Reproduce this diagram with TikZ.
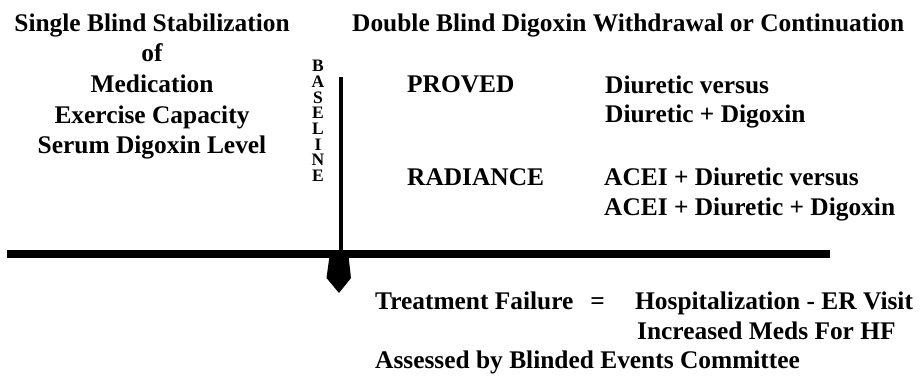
\documentclass[tikz,border=0pt]{standalone}
\usepackage{fontspec}
\setmainfont{Liberation Serif}

\begin{document}
\begin{tikzpicture}[x=1pt,y=-1pt,
                    main text/.style={inner sep=0pt,font=\fontsize{25.4}{30.5}\selectfont\bfseries},
                    letter text/.style={inner sep=0pt,align=center,font=\fontsize{17.5}{15.7}\selectfont\bfseries}]
 \useasboundingbox (0,0) rectangle (920,375);

 % single blind column
  \node[main text,anchor=base] (single) at (152,31) {Single Blind Stabilization};
  \node[main text,anchor=base] (of) at (152,61) {of};
  \node[main text,anchor=base] (med) at (152,92) {Medication};
  \node[main text,anchor=base] (exer) at (152,123) {Exercise Capacity};
  \node[main text,anchor=base] (serum) at (152,153) {Serum Digoxin Level};

 % double blind column
  \node[main text,anchor=base west] (double) at (352,31) {Double Blind Digoxin Withdrawal or Continuation};
  \node[main text,anchor=base west] (proved) at (407,92) {PROVED};
  \node[main text,anchor=base west] (radiance) at (407,185) {RADIANCE};
  \node[main text,anchor=base west] (diu1) at (605,93) {Diuretic versus};
  \node[main text,anchor=base west] (diu2) at (605,122) {Diuretic + Digoxin};
  \node[main text,anchor=base west] (acei1) at (604,185) {ACEI + Diuretic versus};
  \node[main text,anchor=base west] (acei2) at (604,215) {ACEI + Diuretic + Digoxin};

  \node[letter text,anchor=north] (baseline) at (318,60) {B\\A\\S\\E\\L\\I\\N\\E};

 % time line
  \coordinate (lineW) at (7,254);
  \coordinate (lineE) at (830,254);
  \coordinate (vtop) at (340.5,77);
  \draw[line width=8pt] (lineW) -- (lineE);
  \draw[line width=4pt] (vtop) -- (vtop |- lineW);
  \fill (329.5,256) -- (348.5,256) -- (351,278) -- (339,293) -- (326.5,278) -- cycle;

 % outcome
  \node[main text,anchor=base west] (fail) at (375,309) {Treatment Failure};
  \node[main text,anchor=base] (eq) at (597.5,309) {=};
  \node[main text,anchor=base west] (hosp) at (635,309) {Hospitalization - ER Visit};
  \node[main text,anchor=base west] (meds) at (637,339) {Increased Meds For HF};
  \node[main text,anchor=base west] (assess) at (375,368) {Assessed by Blinded Events Committee};

\end{tikzpicture}
\end{document}
